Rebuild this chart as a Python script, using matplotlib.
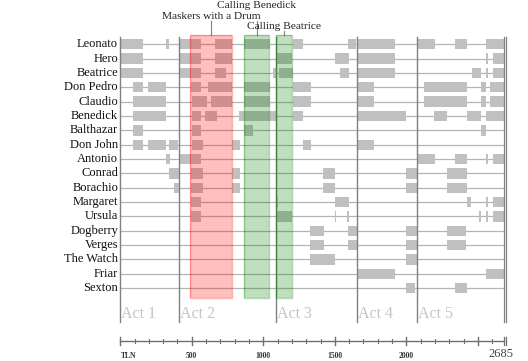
import matplotlib
matplotlib.use('Agg')
import matplotlib.pyplot as plt
from matplotlib.patches import Rectangle

# --- Personajes y parlamentos (TLN inicio, fin) ---
characters = ['Leonato', 'Hero', 'Beatrice', 'Don Pedro', 'Claudio', 'Benedick',
              'Balthazar', 'Don John', 'Antonio', 'Conrad', 'Borachio', 'Margaret',
              'Ursula', 'Dogberry', 'Verges', 'The Watch', 'Friar', 'Sexton']

leonato = [(5, 161), (320, 343), (413, 563), (663, 784), (867, 1047), (1210, 1276),
           (1594, 1648), (1657, 1921), (2077, 2200), (2340, 2422), (2555, 2683)]
hero = [(5, 161), (413, 563), (663, 784), (1089, 1199), (1501, 1599), (1657, 1921),
        (2555, 2573), (2608, 2683)]
beatrice = [(5, 161), (413, 563), (663, 740), (1070, 1089), (1110, 1206), (1536, 1599),
            (1657, 1921), (2461, 2520), (2555, 2573), (2608, 2683)]
don_pedro = [(91, 161), (196, 320), (493, 563), (612, 784), (867, 1047), (1210, 1334),
             (1657, 1774), (2123, 2422), (2520, 2555), (2587, 2683)]
claudio = [(91, 320), (500, 609), (635, 784), (867, 1047), (1210, 1334), (1657, 1774),
           (2123, 2422), (2520, 2555), (2587, 2683)]
benedick = [(91, 320), (500, 563), (593, 677), (832, 1089), (1210, 1276), (1657, 1998),
            (2193, 2282), (2424, 2520), (2555, 2683)]
balthazar = [(91, 161), (500, 563), (867, 926), (2520, 2555)]
don_john = [(91, 161), (196, 320), (343, 406), (500, 581), (784, 837), (1280, 1334),
            (1657, 1774)]
antonio = [(320, 348), (413, 563), (2077, 2200), (2340, 2422), (2555, 2573), (2608, 2683)]
conrad = [(343, 413), (493, 581), (784, 837), (1420, 1501), (1998, 2077), (2286, 2422)]
borachio = [(378, 413), (493, 581), (784, 837), (1420, 1501), (1998, 2077), (2286, 2422)]
margaret = [(493, 563), (1089, 1103), (1501, 1599), (2426, 2450), (2555, 2573), (2608, 2683)]
ursula = [(493, 563), (1089, 1199), (1501, 1510), (1587, 1597), (2510, 2520),
          (2555, 2569), (2608, 2683)]
dogberry = [(1327, 1424), (1594, 1657), (1998, 2077), (2286, 2417)]
verges = [(1327, 1424), (1594, 1657), (1998, 2077), (2286, 2417)]
the_watch = [(1327, 1501), (1998, 2077)]
friar = [(1657, 1921), (2555, 2683)]
sexton = [(1998, 2061), (2340, 2422)]

speeches = [leonato, hero, beatrice, don_pedro, claudio, benedick, balthazar, don_john,
            antonio, conrad, borachio, margaret, ursula, dogberry, verges, the_watch,
            friar, sexton]

# --- Actos y escenas destacadas ---
acts = ['Act 1', 'Act 2', 'Act 3', 'Act 4', 'Act 5']
act_starts = [0, 413, 1087, 1657, 2075]
total_tln = 2685

scenes = ['Maskers with a Drum', 'Calling Benedick', 'Calling Beatrice']
scene_spans = [(488, 784), (867, 1043), (1087, 1199)]
scene_colors = ['#ff0000', '#008000', '#008000']

major_ticks = [500, 1000, 1500, 2000]

# --- Figura ---
fig = plt.figure(figsize=(5.28, 3.61), dpi=100)
ax = fig.add_axes([0, 0, 1, 1])
ax.set_xlim(-840, 2850)
ax.set_ylim(22.085, -3.089)
ax.axis('off')

serif = ['Liberation Serif', 'DejaVu Serif']

# Líneas de cada personaje y bloques de parlamento
for i, (name, segs) in enumerate(zip(characters, speeches)):
    ax.plot([0, total_tln], [i, i], color='#b4b4b4', lw=0.9, zorder=1)
    for s, e in segs:
        ax.add_patch(Rectangle((s, i - 0.36), e - s, 0.72, facecolor='#c0c0c0',
                               edgecolor='none', zorder=2))
    ax.text(-15, i, name, ha='right', va='center', fontsize=9, family=serif,
            color='#111111')

# Líneas de actos
for act, x0 in zip(acts, act_starts):
    ax.plot([x0, x0], [-0.5, 19.36], color='#808080', lw=1.0, zorder=3)
    ax.text(x0 + 8, 18.8, act, ha='left', va='center', fontsize=11.5, family=serif,
            color='#c4c4c4')
for xe in [total_tln - 2, total_tln + 10]:
    ax.plot([xe, xe], [-0.5, 19.36], color='#808080', lw=0.9, zorder=3)

# Escenas destacadas
label_y = [-1.76, -2.5, -1.09]
leader_top = [-1.62, -1.62, -0.96]
for name, (s, e), c, ty, lt in zip(scenes, scene_spans, scene_colors, label_y, leader_top):
    ax.add_patch(Rectangle((s, -0.65), e - s, 18.33, facecolor=c, alpha=0.25,
                           edgecolor='none', zorder=4))
    ax.add_patch(Rectangle((s, -0.65), e - s, 18.33, facecolor='none', edgecolor=c,
                           alpha=0.3, lw=1.0, zorder=4))
    cx_ = (s + e) / 2
    ax.plot([cx_, cx_], [lt, -0.65], color='#808080', lw=0.8, zorder=3)
    ax.text(cx_, ty, name, ha='center', va='baseline', fontsize=8.2, family=serif,
            color='#222222')

# Eje TLN inferior
axis_y = 20.69
ax.plot([0, total_tln], [axis_y, axis_y], color='#707070', lw=1.0)
for t in range(0, total_tln, 100):
    h = 0.3 if (t % 500 == 0) else 0.17
    ax.plot([t, t], [axis_y - h, axis_y + h], color='#707070', lw=1.0 if h > 0.2 else 0.8)
for xe in [total_tln - 2, total_tln + 10]:
    ax.plot([xe, xe], [axis_y - 0.3, axis_y + 0.3], color='#707070', lw=0.9)
for t in major_ticks:
    ax.text(t, 21.72, str(t), ha='center', va='center', fontsize=5.5, family=serif,
            color='#333333', fontweight='bold')
ax.text(60, 21.72, 'TLN', ha='center', va='center', fontsize=5.5, family=serif,
        color='#333333', fontweight='bold')
ax.text(2660, 21.62, str(total_tln), ha='center', va='center', fontsize=9, family=serif,
        color='#444444')

fig.savefig('out.png', dpi=100)
